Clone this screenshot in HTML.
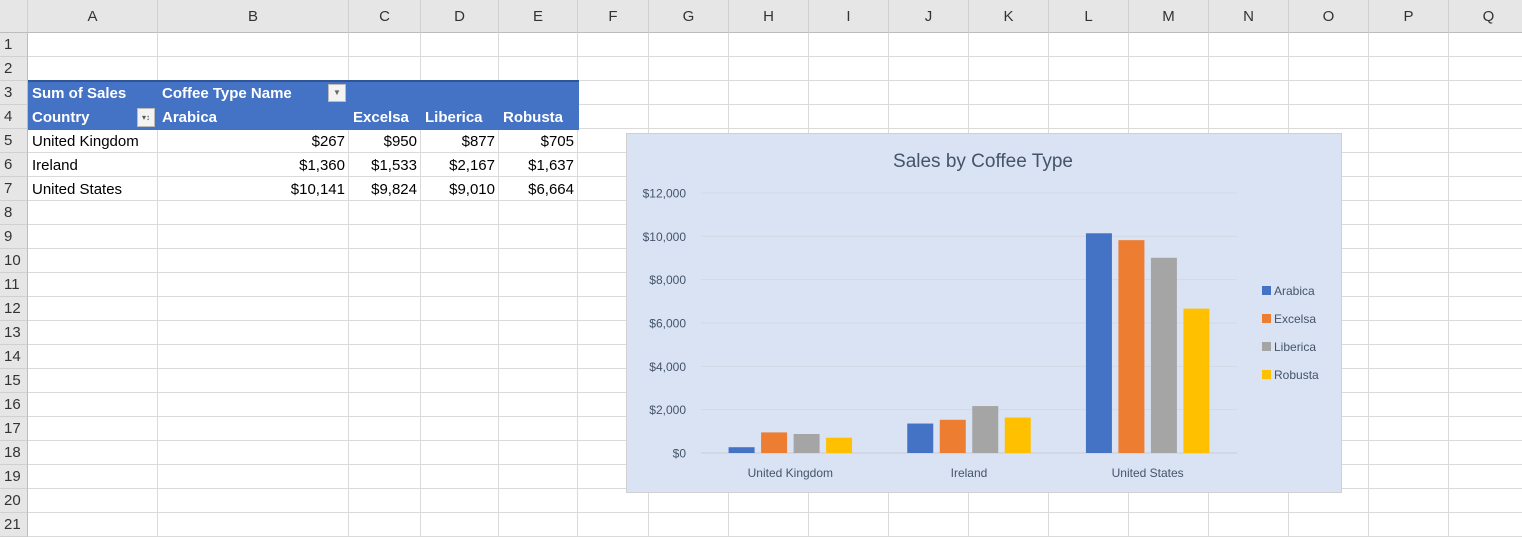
<!DOCTYPE html>
<html><head><meta charset="utf-8">
<style>
body{margin:0;width:1522px;height:537px;overflow:hidden;background:#fff;font-family:"Liberation Sans",sans-serif;position:relative}
.abs{position:absolute}
.ch{position:absolute;top:0;height:33px;background:#e6e6e6;border-right:1px solid #d0d0d0;border-bottom:1px solid #bcbcbc;box-sizing:border-box;text-align:center;line-height:33px;font-size:15px;color:#333}
.rh{position:absolute;left:0;width:28px;height:24px;background:#e6e6e6;border-bottom:1px solid #d0d0d0;border-right:1px solid #bcbcbc;box-sizing:border-box;font-size:15px;color:#333;line-height:24px;padding-left:4px}
.vl{position:absolute;top:33px;width:1px;height:504px;background:#dadada}
.hl{position:absolute;left:28px;width:1494px;height:1px;background:#dadada}
.c{position:absolute;font-size:15px;line-height:24px;color:#000;white-space:nowrap}
.w{color:#fff;font-weight:bold}
.r{text-align:right}
</style></head><body>
<div id="grid"></div>
<div class="abs" style="left:28px;top:80px;width:551px;height:50px;background:#4472c4;border-top:2px solid #2f5597;box-sizing:border-box"></div>
<div class="c w" style="left:32px;top:82px">Sum of Sales</div>
<div class="c w" style="left:162px;top:82px">Coffee Type Name</div>
<div class="abs" style="left:328px;top:84px;width:18px;height:18px;background:#f3f3f3;border:1px solid #bbb;box-sizing:border-box;font-size:8px;color:#666;text-align:center;line-height:16px">▼</div>
<div class="c w" style="left:32px;top:106px">Country</div>
<div class="abs" style="left:137px;top:108px;width:18px;height:19px;background:#f3f3f3;border:1px solid #bbb;box-sizing:border-box;font-size:8px;color:#555;text-align:center;line-height:17px">▾↕</div>
<div class="c w" style="left:162px;top:106px">Arabica</div>
<div class="c w" style="left:353px;top:106px">Excelsa</div>
<div class="c w" style="left:425px;top:106px">Liberica</div>
<div class="c w" style="left:503px;top:106px">Robusta</div>
<div id="cells"></div>

<svg class="abs" style="left:0;top:0" width="1522" height="537" id="chart"></svg>

<script>
const countries=["United Kingdom","Ireland","United States"];
const types=["Arabica","Excelsa","Liberica","Robusta"];
const arabica=[267,1360,10141];
const excelsa=[950,1533,9824];
const liberica=[877,2167,9010];
const robusta=[705,1637,6664];
const yTicks=[0,2000,4000,6000,8000,10000,12000];
const colors=["#4472c4","#ed7d31","#a5a5a5","#ffc000"];
const series=[arabica,excelsa,liberica,robusta];

// grid
const cols=[["A",28,158],["B",158,349],["C",349,421],["D",421,499],["E",499,578],["F",578,649],["G",649,729],["H",729,809],["I",809,889],["J",889,969],["K",969,1049],["L",1049,1129],["M",1129,1209],["N",1209,1289],["O",1289,1369],["P",1369,1449],["Q",1449,1529]];
const g=document.getElementById('grid');
let h='<div class="ch" style="left:0;width:28px"></div>';
cols.forEach(c=>{h+=`<div class="ch" style="left:${c[1]}px;width:${c[2]-c[1]}px">${c[0]}</div>`;h+=`<div class="vl" style="left:${c[2]-1}px"></div>`;});
for(let i=1;i<=21;i++){const t=33+(i-1)*24;h+=`<div class="rh" style="top:${t}px">${i}</div><div class="hl" style="top:${t+23}px"></div>`;}
g.innerHTML=h;
const fmt=v=>'$'+v.toLocaleString('en-US');
let ch='';
const colR=[345,417,495,574];
countries.forEach((c,i)=>{const t=130+i*24;
ch+=`<div class="c" style="left:32px;top:${t}px">${c}</div>`;
series.forEach((s,j)=>{ch+=`<div class="c r" style="right:${1522-colR[j]}px;top:${t}px">${fmt(s[i])}</div>`;});});
document.getElementById('cells').innerHTML=ch;

// chart
const svg=document.getElementById('chart');
const NS='http://www.w3.org/2000/svg';
function el(t,a,txt){const e=document.createElementNS(NS,t);for(const k in a)e.setAttribute(k,a[k]);if(txt!==undefined)e.textContent=txt;svg.appendChild(e);return e;}
const px0=701,px1=1237,py0=453,py1=193,ymax=12000;
const y=v=>py0-(v/ymax)*(py0-py1);
const gw=(px1-px0)/countries.length;
const bw=26,gap=6.5;
let e=el('rect',{x:626.5,y:133.5,width:715,height:359,fill:'#dae3f3',stroke:'#d0d0d0'});

e=el('text',{x:983,y:167,'text-anchor':'middle','font-size':19,fill:'#44546a'},'Sales by Coffee Type');

yTicks.forEach(v=>{
 e=el('line',{x1:px0,x2:px1,y1:y(v),y2:y(v),stroke:v===0?'#c8cdd6':'#d3d9e3','stroke-width':1});
 
 e=el('text',{x:686,y:y(v)+4.5,'text-anchor':'end','font-size':12,fill:'#44546a'},fmt(v));
 
});
countries.forEach((c,i)=>{
 const cx=px0+gw*(i+0.5);
 const start=cx-(4*bw+3*gap)/2;
 series.forEach((s,j)=>{
  const v=s[i];
  e=el('rect',{x:start+j*(bw+gap),y:y(v),width:bw,height:py0-y(v),fill:colors[j]});
  
  
 });
 e=el('text',{x:cx,y:477,'text-anchor':'middle','font-size':12,fill:'#44546a'},c);
 
});
types.forEach((t,j)=>{
 const ly=291+j*28;
 e=el('rect',{x:1262,y:ly-5,width:9,height:9,fill:colors[j]});
 
 e=el('text',{x:1274,y:ly+4,'font-size':12,fill:'#44546a'},t);
 
});
</script>
</body></html>
